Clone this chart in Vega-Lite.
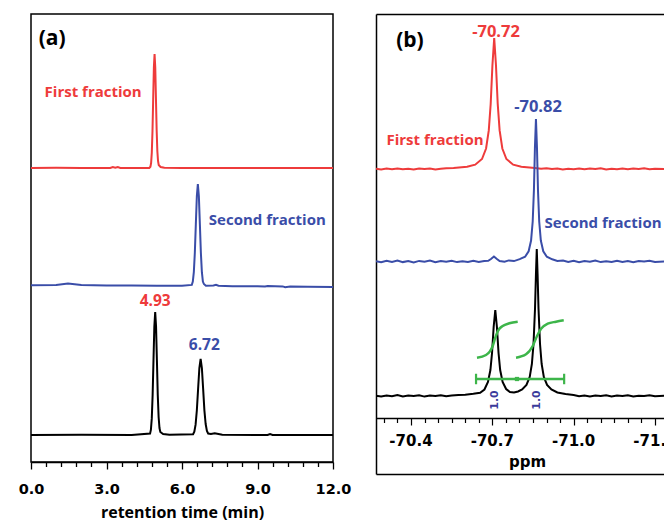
{
  "$schema": "https://vega.github.io/schema/vega-lite/v6.json",
  "padding": {"left": 17, "top": 13, "right": 0, "bottom": 0},
  "bounds": "flush",
  "spacing": 43,
  "config": {"view": {"stroke": null}, "axis": {"grid": false}},
  "datasets": {
    "chrom": [
      {"t": 0, "v": 294, "s": "first"}, {"t": 1.0, "v": 294.2, "s": "first"}, {"t": 2.0, "v": 293.9, "s": "first"},
      {"t": 3.15, "v": 294, "s": "first"}, {"t": 3.25, "v": 295, "s": "first"}, {"t": 3.35, "v": 294.2, "s": "first"},
      {"t": 3.45, "v": 294.9, "s": "first"}, {"t": 3.55, "v": 294, "s": "first"}, {"t": 4.70, "v": 294, "s": "first"},
      {"t": 4.745, "v": 295.3, "s": "first"}, {"t": 4.7725, "v": 299, "s": "first"}, {"t": 4.80, "v": 309.4, "s": "first"},
      {"t": 4.8275, "v": 331, "s": "first"}, {"t": 4.855, "v": 363.2, "s": "first"}, {"t": 4.8825, "v": 394.5, "s": "first"},
      {"t": 4.91, "v": 408, "s": "first"}, {"t": 4.9375, "v": 394.5, "s": "first"}, {"t": 4.965, "v": 363.2, "s": "first"},
      {"t": 4.9925, "v": 332, "s": "first"}, {"t": 5.02, "v": 311, "s": "first"}, {"t": 5.0475, "v": 301, "s": "first"},
      {"t": 5.075, "v": 297, "s": "first"}, {"t": 5.15, "v": 295, "s": "first"}, {"t": 5.3, "v": 294.2, "s": "first"},
      {"t": 6.0, "v": 294, "s": "first"}, {"t": 8.0, "v": 294, "s": "first"}, {"t": 10.0, "v": 294, "s": "first"}, {"t": 12.0, "v": 294, "s": "first"},

      {"t": 0, "v": 176.7, "s": "second"}, {"t": 1.0, "v": 177, "s": "second"}, {"t": 1.47, "v": 178.5, "s": "second"},
      {"t": 2.0, "v": 177, "s": "second"}, {"t": 3.0, "v": 176.5, "s": "second"}, {"t": 4.0, "v": 176.5, "s": "second"},
      {"t": 5.0, "v": 176.3, "s": "second"}, {"t": 6.0, "v": 176.3, "s": "second"}, {"t": 6.39, "v": 177.1, "s": "second"},
      {"t": 6.43, "v": 180.5, "s": "second"}, {"t": 6.47, "v": 189.8, "s": "second"}, {"t": 6.51, "v": 209.2, "s": "second"},
      {"t": 6.55, "v": 237.9, "s": "second"}, {"t": 6.59, "v": 266, "s": "second"}, {"t": 6.63, "v": 278, "s": "second"},
      {"t": 6.67, "v": 266, "s": "second"}, {"t": 6.71, "v": 237.9, "s": "second"}, {"t": 6.75, "v": 209.2, "s": "second"},
      {"t": 6.79, "v": 189.8, "s": "second"}, {"t": 6.83, "v": 180.5, "s": "second"}, {"t": 6.87, "v": 178, "s": "second"},
      {"t": 6.95, "v": 176.3, "s": "second"}, {"t": 7.25, "v": 176.5, "s": "second"}, {"t": 7.35, "v": 177.2, "s": "second"},
      {"t": 7.45, "v": 176.3, "s": "second"}, {"t": 8.0, "v": 175.8, "s": "second"}, {"t": 9.0, "v": 175.8, "s": "second"},
      {"t": 9.3, "v": 175.5, "s": "second"}, {"t": 9.4, "v": 176, "s": "second"}, {"t": 10.0, "v": 175.6, "s": "second"},
      {"t": 10.1, "v": 174.8, "s": "second"}, {"t": 10.3, "v": 175.6, "s": "second"}, {"t": 11.0, "v": 175.3, "s": "second"},
      {"t": 12.0, "v": 175, "s": "second"},

      {"t": 0, "v": 27, "s": "mix"}, {"t": 2.0, "v": 27.2, "s": "mix"}, {"t": 4.0, "v": 27, "s": "mix"},
      {"t": 4.731, "v": 28.4, "s": "mix"}, {"t": 4.765, "v": 32.4, "s": "mix"}, {"t": 4.799, "v": 43.6, "s": "mix"},
      {"t": 4.833, "v": 67, "s": "mix"}, {"t": 4.867, "v": 101.7, "s": "mix"}, {"t": 4.901, "v": 135.5, "s": "mix"},
      {"t": 4.935, "v": 150, "s": "mix"}, {"t": 4.969, "v": 135.5, "s": "mix"}, {"t": 5.003, "v": 101.7, "s": "mix"},
      {"t": 5.037, "v": 67, "s": "mix"}, {"t": 5.071, "v": 45, "s": "mix"}, {"t": 5.105, "v": 34, "s": "mix"},
      {"t": 5.139, "v": 30, "s": "mix"}, {"t": 5.25, "v": 28, "s": "mix"}, {"t": 5.5, "v": 27.3, "s": "mix"},
      {"t": 6.44, "v": 27.8, "s": "mix"}, {"t": 6.49, "v": 30.3, "s": "mix"}, {"t": 6.54, "v": 37.3, "s": "mix"},
      {"t": 6.59, "v": 51.7, "s": "mix"}, {"t": 6.64, "v": 73.1, "s": "mix"}, {"t": 6.69, "v": 94, "s": "mix"},
      {"t": 6.74, "v": 103, "s": "mix"}, {"t": 6.79, "v": 94, "s": "mix"}, {"t": 6.84, "v": 73.1, "s": "mix"},
      {"t": 6.89, "v": 51.7, "s": "mix"}, {"t": 6.94, "v": 38, "s": "mix"}, {"t": 6.99, "v": 31, "s": "mix"},
      {"t": 7.04, "v": 28.5, "s": "mix"}, {"t": 7.15, "v": 28, "s": "mix"}, {"t": 7.3, "v": 28.8, "s": "mix"},
      {"t": 7.45, "v": 28, "s": "mix"}, {"t": 7.6, "v": 27.2, "s": "mix"}, {"t": 9.4, "v": 27, "s": "mix"},
      {"t": 9.5, "v": 28, "s": "mix"}, {"t": 9.6, "v": 27, "s": "mix"}, {"t": 12.0, "v": 27, "s": "mix"}
    ],
    "textA": [
      {"t": 0.84, "v": 423, "label": "(a)", "s": "mix", "kind": "tag"},
      {"t": 2.47, "v": 370, "label": "First fraction", "s": "first", "kind": "name"},
      {"t": 9.39, "v": 242, "label": "Second fraction", "s": "second", "kind": "name"},
      {"t": 4.935, "v": 161, "label": "4.93", "s": "first", "kind": "num"},
      {"t": 6.886, "v": 117, "label": "6.72", "s": "second", "kind": "num"}
    ],
    "nmr": [
      {"ppm": -70.271, "v": 305.3, "s": "first"}, {"ppm": -70.29, "v": 304.6, "s": "first"}, {"ppm": -70.31, "v": 305.4, "s": "first"},
      {"ppm": -70.33, "v": 304.8, "s": "first"}, {"ppm": -70.35, "v": 305.6, "s": "first"}, {"ppm": -70.37, "v": 304.7, "s": "first"},
      {"ppm": -70.39, "v": 305.2, "s": "first"}, {"ppm": -70.41, "v": 304.5, "s": "first"}, {"ppm": -70.43, "v": 305.5, "s": "first"},
      {"ppm": -70.45, "v": 304.9, "s": "first"}, {"ppm": -70.47, "v": 305.4, "s": "first"}, {"ppm": -70.49, "v": 304.6, "s": "first"},
      {"ppm": -70.51, "v": 305.3, "s": "first"}, {"ppm": -70.53, "v": 305.8, "s": "first"}, {"ppm": -70.557, "v": 306, "s": "first"},
      {"ppm": -70.607, "v": 307.2, "s": "first"}, {"ppm": -70.637, "v": 309.3, "s": "first"}, {"ppm": -70.662, "v": 315, "s": "first"},
      {"ppm": -70.677, "v": 325.5, "s": "first"}, {"ppm": -70.687, "v": 343.6, "s": "first"}, {"ppm": -70.694, "v": 370, "s": "first"},
      {"ppm": -70.7005, "v": 409, "s": "first"}, {"ppm": -70.707, "v": 436, "s": "first"}, {"ppm": -70.7135, "v": 409, "s": "first"},
      {"ppm": -70.72, "v": 370, "s": "first"}, {"ppm": -70.727, "v": 343.6, "s": "first"}, {"ppm": -70.737, "v": 325.5, "s": "first"},
      {"ppm": -70.752, "v": 315, "s": "first"}, {"ppm": -70.777, "v": 309.3, "s": "first"}, {"ppm": -70.807, "v": 307.2, "s": "first"},
      {"ppm": -70.857, "v": 306, "s": "first"}, {"ppm": -70.88, "v": 305.2, "s": "first"}, {"ppm": -70.9, "v": 305.8, "s": "first"},
      {"ppm": -70.92, "v": 304.9, "s": "first"}, {"ppm": -70.94, "v": 305.5, "s": "first"}, {"ppm": -70.96, "v": 304.6, "s": "first"},
      {"ppm": -70.98, "v": 305.3, "s": "first"}, {"ppm": -71.0, "v": 304.8, "s": "first"}, {"ppm": -71.02, "v": 305.6, "s": "first"},
      {"ppm": -71.04, "v": 304.7, "s": "first"}, {"ppm": -71.06, "v": 305.4, "s": "first"}, {"ppm": -71.08, "v": 304.9, "s": "first"},
      {"ppm": -71.1, "v": 305.7, "s": "first"}, {"ppm": -71.12, "v": 304.6, "s": "first"}, {"ppm": -71.14, "v": 305.2, "s": "first"},
      {"ppm": -71.16, "v": 304.8, "s": "first"}, {"ppm": -71.18, "v": 305.5, "s": "first"}, {"ppm": -71.2, "v": 304.7, "s": "first"},
      {"ppm": -71.22, "v": 305.4, "s": "first"}, {"ppm": -71.24, "v": 305, "s": "first"}, {"ppm": -71.26, "v": 305.7, "s": "first"},
      {"ppm": -71.28, "v": 304.8, "s": "first"}, {"ppm": -71.3, "v": 305.3, "s": "first"}, {"ppm": -71.337, "v": 305, "s": "first"},

      {"ppm": -70.271, "v": 212.8, "s": "second"}, {"ppm": -70.29, "v": 211.7, "s": "second"}, {"ppm": -70.31, "v": 213.2, "s": "second"},
      {"ppm": -70.33, "v": 212.0, "s": "second"}, {"ppm": -70.35, "v": 213.4, "s": "second"}, {"ppm": -70.37, "v": 211.9, "s": "second"},
      {"ppm": -70.39, "v": 212.9, "s": "second"}, {"ppm": -70.41, "v": 211.6, "s": "second"}, {"ppm": -70.43, "v": 213.1, "s": "second"},
      {"ppm": -70.45, "v": 212.3, "s": "second"}, {"ppm": -70.47, "v": 213.5, "s": "second"}, {"ppm": -70.49, "v": 211.8, "s": "second"},
      {"ppm": -70.51, "v": 212.9, "s": "second"}, {"ppm": -70.53, "v": 212.2, "s": "second"}, {"ppm": -70.55, "v": 213.3, "s": "second"},
      {"ppm": -70.57, "v": 211.9, "s": "second"}, {"ppm": -70.59, "v": 212.7, "s": "second"}, {"ppm": -70.61, "v": 212.1, "s": "second"},
      {"ppm": -70.63, "v": 213.2, "s": "second"}, {"ppm": -70.65, "v": 212.0, "s": "second"}, {"ppm": -70.67, "v": 212.9, "s": "second"},
      {"ppm": -70.685, "v": 213.2, "s": "second"}, {"ppm": -70.695, "v": 215, "s": "second"}, {"ppm": -70.706, "v": 217.5, "s": "second"},
      {"ppm": -70.717, "v": 215, "s": "second"}, {"ppm": -70.727, "v": 213, "s": "second"}, {"ppm": -70.745, "v": 212.3, "s": "second"},
      {"ppm": -70.761, "v": 213.6, "s": "second"}, {"ppm": -70.78, "v": 212.9, "s": "second"}, {"ppm": -70.801, "v": 214.9, "s": "second"},
      {"ppm": -70.821, "v": 217.3, "s": "second"}, {"ppm": -70.834, "v": 222.7, "s": "second"}, {"ppm": -70.843, "v": 233.5, "s": "second"},
      {"ppm": -70.849, "v": 252.5, "s": "second"}, {"ppm": -70.8535, "v": 283.8, "s": "second"}, {"ppm": -70.85725, "v": 326.5, "s": "second"},
      {"ppm": -70.861, "v": 355, "s": "second"}, {"ppm": -70.86475, "v": 326.5, "s": "second"}, {"ppm": -70.8685, "v": 283.8, "s": "second"},
      {"ppm": -70.873, "v": 252.5, "s": "second"}, {"ppm": -70.879, "v": 233.5, "s": "second"}, {"ppm": -70.888, "v": 222.7, "s": "second"},
      {"ppm": -70.901, "v": 217.3, "s": "second"}, {"ppm": -70.921, "v": 214.7, "s": "second"}, {"ppm": -70.94, "v": 213.1, "s": "second"},
      {"ppm": -70.961, "v": 213.5, "s": "second"}, {"ppm": -70.98, "v": 212.1, "s": "second"}, {"ppm": -71.0, "v": 213.2, "s": "second"},
      {"ppm": -71.02, "v": 211.8, "s": "second"}, {"ppm": -71.04, "v": 212.9, "s": "second"}, {"ppm": -71.06, "v": 212.2, "s": "second"},
      {"ppm": -71.08, "v": 213.4, "s": "second"}, {"ppm": -71.1, "v": 211.9, "s": "second"}, {"ppm": -71.12, "v": 212.8, "s": "second"},
      {"ppm": -71.14, "v": 212.0, "s": "second"}, {"ppm": -71.16, "v": 213.3, "s": "second"}, {"ppm": -71.18, "v": 212.1, "s": "second"},
      {"ppm": -71.2, "v": 212.9, "s": "second"}, {"ppm": -71.22, "v": 211.7, "s": "second"}, {"ppm": -71.24, "v": 213.0, "s": "second"},
      {"ppm": -71.26, "v": 212.4, "s": "second"}, {"ppm": -71.28, "v": 213.3, "s": "second"}, {"ppm": -71.3, "v": 212.0, "s": "second"},
      {"ppm": -71.337, "v": 212.6, "s": "second"},

      {"ppm": -70.271, "v": 78.3, "s": "mix"}, {"ppm": -70.29, "v": 77.5, "s": "mix"}, {"ppm": -70.31, "v": 78.6, "s": "mix"},
      {"ppm": -70.33, "v": 77.8, "s": "mix"}, {"ppm": -70.35, "v": 78.9, "s": "mix"}, {"ppm": -70.37, "v": 77.6, "s": "mix"},
      {"ppm": -70.39, "v": 78.4, "s": "mix"}, {"ppm": -70.41, "v": 77.9, "s": "mix"}, {"ppm": -70.43, "v": 78.7, "s": "mix"},
      {"ppm": -70.45, "v": 77.4, "s": "mix"}, {"ppm": -70.47, "v": 78.5, "s": "mix"}, {"ppm": -70.49, "v": 78.0, "s": "mix"},
      {"ppm": -70.51, "v": 78.8, "s": "mix"}, {"ppm": -70.53, "v": 77.7, "s": "mix"}, {"ppm": -70.55, "v": 78.4, "s": "mix"},
      {"ppm": -70.575, "v": 78.9, "s": "mix"}, {"ppm": -70.6, "v": 79.3, "s": "mix"}, {"ppm": -70.63, "v": 80.2, "s": "mix"},
      {"ppm": -70.655, "v": 81.3, "s": "mix"}, {"ppm": -70.671, "v": 84.5, "s": "mix"}, {"ppm": -70.684, "v": 92, "s": "mix"},
      {"ppm": -70.693, "v": 104, "s": "mix"}, {"ppm": -70.699, "v": 121, "s": "mix"}, {"ppm": -70.705, "v": 147, "s": "mix"},
      {"ppm": -70.711, "v": 164, "s": "mix"}, {"ppm": -70.717, "v": 147, "s": "mix"}, {"ppm": -70.723, "v": 121, "s": "mix"},
      {"ppm": -70.729, "v": 104, "s": "mix"}, {"ppm": -70.738, "v": 92, "s": "mix"}, {"ppm": -70.751, "v": 85, "s": "mix"},
      {"ppm": -70.765, "v": 82, "s": "mix"}, {"ppm": -70.78, "v": 81.5, "s": "mix"}, {"ppm": -70.795, "v": 82.5, "s": "mix"},
      {"ppm": -70.81, "v": 84.5, "s": "mix"}, {"ppm": -70.826, "v": 89, "s": "mix"}, {"ppm": -70.838, "v": 97, "s": "mix"},
      {"ppm": -70.846, "v": 110, "s": "mix"}, {"ppm": -70.852, "v": 130, "s": "mix"}, {"ppm": -70.8575, "v": 165, "s": "mix"},
      {"ppm": -70.861, "v": 200, "s": "mix"}, {"ppm": -70.864, "v": 225, "s": "mix"}, {"ppm": -70.867, "v": 200, "s": "mix"},
      {"ppm": -70.8705, "v": 165, "s": "mix"}, {"ppm": -70.876, "v": 130, "s": "mix"}, {"ppm": -70.882, "v": 110, "s": "mix"},
      {"ppm": -70.89, "v": 97, "s": "mix"}, {"ppm": -70.902, "v": 89, "s": "mix"}, {"ppm": -70.918, "v": 84.5, "s": "mix"},
      {"ppm": -70.94, "v": 81.5, "s": "mix"}, {"ppm": -70.97, "v": 80, "s": "mix"}, {"ppm": -71.0, "v": 79, "s": "mix"},
      {"ppm": -71.02, "v": 77.8, "s": "mix"}, {"ppm": -71.04, "v": 78.6, "s": "mix"}, {"ppm": -71.06, "v": 77.5, "s": "mix"},
      {"ppm": -71.08, "v": 78.4, "s": "mix"}, {"ppm": -71.1, "v": 77.9, "s": "mix"}, {"ppm": -71.12, "v": 78.8, "s": "mix"},
      {"ppm": -71.14, "v": 77.6, "s": "mix"}, {"ppm": -71.16, "v": 78.5, "s": "mix"}, {"ppm": -71.18, "v": 78.0, "s": "mix"},
      {"ppm": -71.2, "v": 78.7, "s": "mix"}, {"ppm": -71.22, "v": 77.6, "s": "mix"}, {"ppm": -71.24, "v": 78.3, "s": "mix"},
      {"ppm": -71.26, "v": 77.9, "s": "mix"}, {"ppm": -71.28, "v": 78.8, "s": "mix"}, {"ppm": -71.3, "v": 77.7, "s": "mix"},
      {"ppm": -71.337, "v": 78.2, "s": "mix"}
    ],
    "integral": [
      {"ppm": -70.6435, "v": 116.3, "c": "g1"}, {"ppm": -70.6768, "v": 119, "c": "g1"}, {"ppm": -70.7015, "v": 128, "c": "g1"},
      {"ppm": -70.711, "v": 136.3, "c": "g1"}, {"ppm": -70.7221, "v": 143.7, "c": "g1"}, {"ppm": -70.7384, "v": 148, "c": "g1"},
      {"ppm": -70.7627, "v": 150.7, "c": "g1"}, {"ppm": -70.7937, "v": 152.3, "c": "g1"},
      {"ppm": -70.7875, "v": 116.3, "c": "g2"}, {"ppm": -70.8244, "v": 119.7, "c": "g2"}, {"ppm": -70.8491, "v": 128, "c": "g2"},
      {"ppm": -70.865, "v": 138, "c": "g2"}, {"ppm": -70.8797, "v": 145.3, "c": "g2"}, {"ppm": -70.9044, "v": 150.3, "c": "g2"},
      {"ppm": -70.935, "v": 152.3, "c": "g2"}, {"ppm": -70.9635, "v": 153.7, "c": "g2"}
    ],
    "region": [{"start": -70.64, "end": -70.965, "level": 95}],
    "marks": [
      {"ppm": -70.64, "v": 95, "kind": "end"}, {"ppm": -70.965, "v": 95, "kind": "end"}, {"ppm": -70.791, "v": 95, "kind": "mid"}
    ],
    "integ": [{"ppm": -70.711, "v": 74, "label": "1.0"}, {"ppm": -70.865, "v": 74, "label": "1.0"}],
    "textB": [
      {"ppm": -70.3963, "v": 433, "label": "(b)", "s": "mix", "kind": "tag"},
      {"ppm": -70.7137, "v": 442, "label": "-70.72", "s": "first", "kind": "num"},
      {"ppm": -70.8686, "v": 367, "label": "-70.82", "s": "second", "kind": "num"},
      {"ppm": -70.4886, "v": 334, "label": "First fraction", "s": "first", "kind": "name"},
      {"ppm": -71.1085, "v": 251, "label": "Second fraction", "s": "second", "kind": "name"}
    ],
    "ticksB": [
      {"ppm": -70.4, "label": "-70.4"}, {"ppm": -70.7, "label": "-70.7"}, {"ppm": -71.0, "label": "-71.0"}, {"ppm": -71.3, "label": "-71.3"}
    ]
  },
  "hconcat": [
    {
      "width": 302,
      "height": 448,
      "view": {"stroke": "#000000", "strokeWidth": 1.5},
      "resolve": {"axis": {"x": "independent"}},
      "layer": [
        {
          "data": {"name": "chrom"},
          "mark": {"type": "line", "strokeWidth": 2},
          "encoding": {
            "x": {"field": "t", "type": "quantitative", "scale": {"domain": [0, 12], "nice": false, "zero": false},
              "axis": {"orient": "bottom", "values": [0.6, 1.2, 1.8, 2.4, 3.6, 4.2, 4.8, 5.4, 6.6, 7.2, 7.8, 8.4, 9.6, 10.2, 10.8, 11.4],
                "tickSize": 4.5, "tickColor": "#000000", "tickWidth": 1.3, "domainColor": "#000000", "domainWidth": 1.5,
                "labels": false, "title": null, "grid": false}},
            "y": {"field": "v", "type": "quantitative", "scale": {"domain": [0, 448], "nice": false, "zero": false}, "axis": null},
            "color": {"field": "s", "type": "nominal", "scale": {"domain": ["first", "second", "mix"], "range": ["#EE3B3B", "#3A4DA8", "#000000"]}, "legend": null}
          }
        },
        {
          "data": {"name": "textA"},
          "transform": [{"filter": "datum.kind == 'tag'"}],
          "mark": {"type": "text", "font": "Open Sans", "fontWeight": "bold", "fontSize": 21, "align": "center", "baseline": "middle"},
          "encoding": {
            "x": {"field": "t", "type": "quantitative",
              "axis": {"orient": "bottom", "values": [0, 3, 6, 9, 12], "format": ".1f",
                "tickSize": 7, "tickColor": "#000000", "tickWidth": 1.3, "domain": false,
                "labelFont": "DejaVu Sans", "labelFontWeight": "bold", "labelFontSize": 14.5, "labelColor": "#000000",
                "labelBaseline": "alphabetic", "labelPadding": 24, "labelOverlap": false, "labelFlush": false, "labelBound": false,
                "title": "retention time (min)", "titleFont": "Open Sans", "titleFontWeight": "bold", "titleFontSize": 16,
                "titleColor": "#000000", "titleBaseline": "alphabetic", "titleY": 55, "grid": false}},
            "y": {"field": "v", "type": "quantitative"},
            "text": {"field": "label"},
            "color": {"field": "s", "type": "nominal", "legend": null}
          }
        },
        {
          "data": {"name": "textA"},
          "transform": [{"filter": "datum.kind == 'name'"}],
          "mark": {"type": "text", "font": "Open Sans", "fontWeight": "bold", "fontSize": 15, "align": "center", "baseline": "middle"},
          "encoding": {
            "x": {"field": "t", "type": "quantitative", "axis": null},
            "y": {"field": "v", "type": "quantitative"},
            "text": {"field": "label"},
            "color": {"field": "s", "type": "nominal", "legend": null}
          }
        },
        {
          "data": {"name": "textA"},
          "transform": [{"filter": "datum.kind == 'num'"}],
          "mark": {"type": "text", "font": "Open Sans", "fontWeight": "bold", "fontSize": 15.5, "align": "center", "baseline": "middle"},
          "encoding": {
            "x": {"field": "t", "type": "quantitative", "axis": null},
            "y": {"field": "v", "type": "quantitative"},
            "text": {"field": "label"},
            "color": {"field": "s", "type": "nominal", "legend": null}
          }
        }
      ]
    },
    {
      "width": 289,
      "height": 460,
      "resolve": {"axis": {"x": "independent"}},
      "layer": [
        {
          "data": {"name": "nmr"},
          "mark": {"type": "line", "strokeWidth": 2, "clip": true},
          "encoding": {
            "x": {"field": "ppm", "type": "quantitative", "scale": {"domain": [-71.337, -70.271], "reverse": true, "nice": false, "zero": false},
              "axis": {"orient": "bottom", "offset": -56,
                "values": [-70.3, -70.35, -70.45, -70.5, -70.55, -70.6, -70.65, -70.75, -70.8, -70.85, -70.9, -70.95, -71.05, -71.1, -71.15, -71.2, -71.25],
                "tickSize": 4.5, "tickColor": "#000000", "tickWidth": 1.2, "domainColor": "#000000", "domainWidth": 1.3,
                "labels": false,
                "title": "ppm", "titleFont": "DejaVu Sans", "titleFontWeight": "bold", "titleFontSize": 15, "titleColor": "#000000",
                "titleBaseline": "alphabetic", "titleX": 151, "titleY": 48, "grid": false}},
            "y": {"field": "v", "type": "quantitative", "scale": {"domain": [0, 460], "nice": false, "zero": false},
              "axis": {"orient": "left", "domain": true, "domainColor": "#000000", "domainWidth": 1.5, "ticks": false, "labels": false, "title": null, "grid": false}},
            "color": {"field": "s", "type": "nominal", "scale": {"domain": ["first", "second", "mix"], "range": ["#EE3B3B", "#3A4DA8", "#000000"]}, "legend": null}
          }
        },
        {
          "data": {"name": "integral"},
          "mark": {"type": "line", "strokeWidth": 2.5, "color": "#3DB54A", "interpolate": "monotone", "clip": true},
          "encoding": {
            "x": {"field": "ppm", "type": "quantitative",
              "axis": {"orient": "top", "domain": true, "domainColor": "#000000", "domainWidth": 1.5, "ticks": false, "labels": false, "title": null, "grid": false}},
            "y": {"field": "v", "type": "quantitative"},
            "detail": {"field": "c"}
          }
        },
        {
          "data": {"name": "region"},
          "mark": {"type": "rule", "strokeWidth": 2.5, "color": "#3DB54A"},
          "encoding": {
            "x": {"field": "start", "type": "quantitative", "axis": null},
            "x2": {"field": "end"},
            "y": {"field": "level", "type": "quantitative"}
          }
        },
        {
          "data": {"name": "marks"},
          "transform": [{"filter": "datum.kind == 'end'"}],
          "mark": {"type": "point", "shape": "M0,-1L0,1", "size": 110, "filled": false, "strokeWidth": 2.2, "color": "#3DB54A", "opacity": 1},
          "encoding": {
            "x": {"field": "ppm", "type": "quantitative", "axis": null},
            "y": {"field": "v", "type": "quantitative"}
          }
        },
        {
          "data": {"name": "marks"},
          "transform": [{"filter": "datum.kind == 'mid'"}],
          "mark": {"type": "point", "shape": "square", "size": 18, "filled": true, "color": "#3DB54A", "opacity": 1},
          "encoding": {
            "x": {"field": "ppm", "type": "quantitative", "axis": null},
            "y": {"field": "v", "type": "quantitative"}
          }
        },
        {
          "data": {"name": "integ"},
          "mark": {"type": "text", "font": "DejaVu Sans", "fontWeight": "bold", "fontSize": 11, "angle": 270, "align": "center", "baseline": "middle", "color": "#3B3B9B"},
          "encoding": {
            "x": {"field": "ppm", "type": "quantitative",
              "axis": {"orient": "bottom", "offset": -56, "values": [-70.4, -70.7, -71.0, -71.3],
                "tickSize": 7, "tickColor": "#000000", "tickWidth": 1.2, "domain": false, "labels": false, "title": null, "grid": false}},
            "y": {"field": "v", "type": "quantitative"},
            "text": {"field": "label"}
          }
        },
        {
          "data": {"name": "textB"},
          "transform": [{"filter": "datum.kind == 'tag'"}],
          "mark": {"type": "text", "font": "Open Sans", "fontWeight": "bold", "fontSize": 21, "align": "center", "baseline": "middle", "clip": true},
          "encoding": {
            "x": {"field": "ppm", "type": "quantitative", "axis": null},
            "y": {"field": "v", "type": "quantitative"},
            "text": {"field": "label"},
            "color": {"field": "s", "type": "nominal", "legend": null}
          }
        },
        {
          "data": {"name": "textB"},
          "transform": [{"filter": "datum.kind == 'name'"}],
          "mark": {"type": "text", "font": "Open Sans", "fontWeight": "bold", "fontSize": 15, "align": "center", "baseline": "middle", "clip": true},
          "encoding": {
            "x": {"field": "ppm", "type": "quantitative", "axis": null},
            "y": {"field": "v", "type": "quantitative"},
            "text": {"field": "label"},
            "color": {"field": "s", "type": "nominal", "legend": null}
          }
        },
        {
          "data": {"name": "textB"},
          "transform": [{"filter": "datum.kind == 'num'"}],
          "mark": {"type": "text", "font": "Open Sans", "fontWeight": "bold", "fontSize": 16.5, "align": "center", "baseline": "middle", "clip": true},
          "encoding": {
            "x": {"field": "ppm", "type": "quantitative", "axis": null},
            "y": {"field": "v", "type": "quantitative"},
            "text": {"field": "label"},
            "color": {"field": "s", "type": "nominal", "legend": null}
          }
        },
        {
          "data": {"name": "ticksB"},
          "mark": {"type": "text", "font": "DejaVu Sans", "fontWeight": "bold", "fontSize": 15, "align": "center", "baseline": "alphabetic", "color": "#000000", "clip": true},
          "encoding": {
            "x": {"field": "ppm", "type": "quantitative",
              "axis": {"orient": "bottom", "offset": 0, "domain": true, "domainColor": "#000000", "domainWidth": 1.5, "ticks": false, "labels": false, "title": null, "grid": false}},
            "y": {"datum": 28, "type": "quantitative"},
            "text": {"field": "label"}
          }
        }
      ]
    }
  ]
}
